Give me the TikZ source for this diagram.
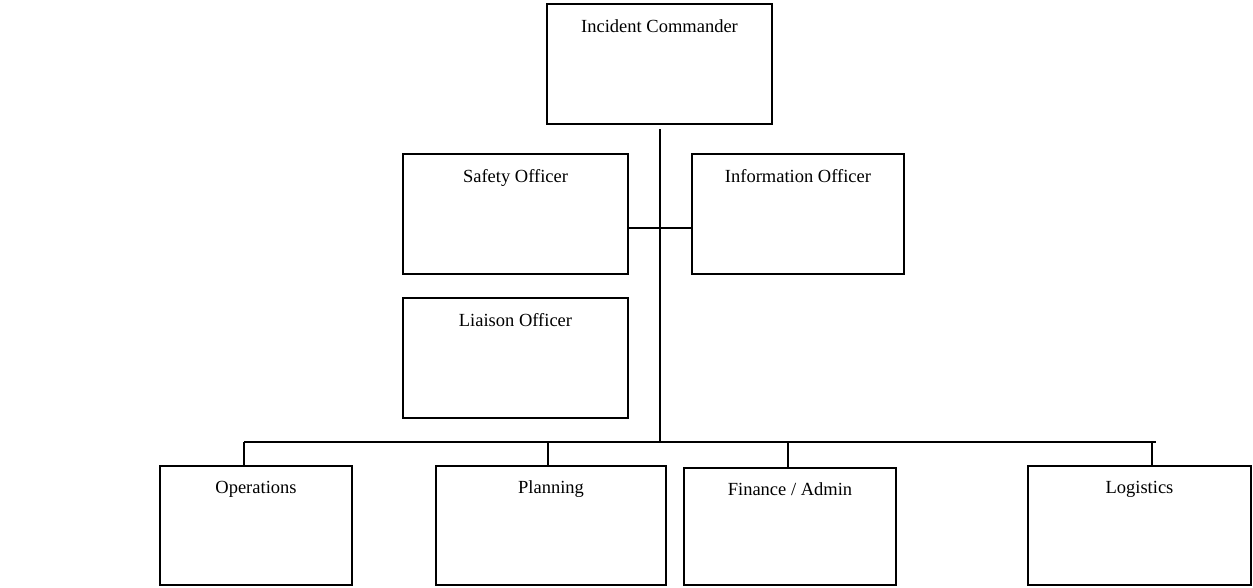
\documentclass[tikz,border=0pt]{standalone}
\usepackage{fontspec}
\setmainfont{Liberation Serif}
\begin{document}
\begin{tikzpicture}[x=1pt,y=-1pt,
  box/.style={draw=black,line width=1.6pt,inner sep=0pt,outer sep=0pt,fill=white},
  lbl/.style={anchor=base,inner sep=0pt,font=\fontsize{18.5}{22}\selectfont},
  conn/.style={draw=black,line width=1.6pt}]
\useasboundingbox (0,0) rectangle (1253,587);
% boxes (x1,y1)-(x2,y2)
\node[box,minimum width=225,minimum height=120] (ic) at (659.5,64) {};
\node[box,minimum width=225,minimum height=120] (safety) at (515.5,214) {};
\node[box,minimum width=212,minimum height=120] (info) at (798,214) {};
\node[box,minimum width=225,minimum height=120] (liaison) at (515.5,358) {};
\node[box,minimum width=192,minimum height=119] (ops) at (256,525.5) {};
\node[box,minimum width=230,minimum height=119] (plan) at (551,525.5) {};
\node[box,minimum width=212,minimum height=117] (fin) at (790,526.5) {};
\node[box,minimum width=223,minimum height=119] (log) at (1139.5,525.5) {};
% labels
\node[lbl] (icl) at ([yshift=-28pt]ic.north) {Incident Commander};
\node[lbl] (safetyl) at ([yshift=-28pt]safety.north) {Safety Officer};
\node[lbl] (infol) at ([yshift=-28pt]info.north) {Information Officer};
\node[lbl] (liaisonl) at ([yshift=-28pt]liaison.north) {Liaison Officer};
\node[lbl] (opsl) at ([yshift=-27pt]ops.north) {Operations};
\node[lbl] (planl) at ([yshift=-27pt]plan.north) {Planning};
\node[lbl] (finl) at ([yshift=-27pt]fin.north) {Finance / Admin};
\node[lbl] (logl) at ([yshift=-27pt]log.north) {Logistics};
% connector coordinates
\coordinate (top) at (660,129);
\coordinate (hj) at (660,228);
\coordinate (bj) at (660,442);
\coordinate (bops) at (244,442);
\coordinate (bplan) at (548,442);
\coordinate (bfin) at (788,442);
\coordinate (blog) at (1152,442);
\coordinate (bend) at (1156,442);
% connectors
\draw[conn] (top) -- (bj);
\draw[conn] (safety.east |- hj) -- (info.west |- hj);
\draw[conn] (bops) -- (bend);
\draw[conn] (bops) -- (bops |- ops.north);
\draw[conn] (bplan) -- (bplan |- plan.north);
\draw[conn] (bfin) -- (bfin |- fin.north);
\draw[conn] (blog) -- (blog |- log.north);
\end{tikzpicture}
\end{document}
